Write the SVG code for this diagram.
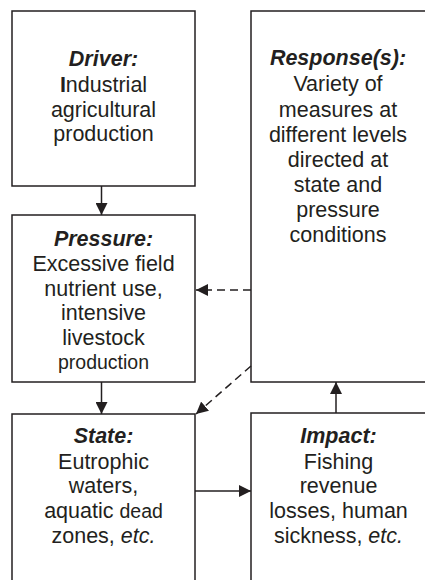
<svg xmlns="http://www.w3.org/2000/svg" width="425" height="580" viewBox="0 0 425 580">
<style>
.box{fill:#fff;stroke:#231f20;stroke-width:1.5}
.t{font-family:"Liberation Sans",Arial,sans-serif;font-size:21.5px;fill:#231f20;text-anchor:middle}
.h{font-weight:bold;font-style:italic}
.sm{font-size:19.5px}
.ln{stroke:#231f20;stroke-width:1.5;fill:none}
.dash{stroke-dasharray:8 5}
</style>
<defs>
<marker id="ah" viewBox="0 0 12 12" refX="12" refY="6" markerWidth="12" markerHeight="12" markerUnits="userSpaceOnUse" orient="auto">
<path d="M0,0 L12,6 L0,12 Z" fill="#231f20"/>
</marker>
</defs>
<rect width="425" height="580" fill="#fff"/>
<g id="driver">
<rect class="box" x="12" y="11" width="183" height="175"/>
<text class="t" x="103.5" y="66"><tspan class="h">Driver:</tspan></text>
<text class="t" x="103.5" y="92"><tspan font-weight="bold">I</tspan>ndustrial</text>
<text class="t" x="103.5" y="117">agricultural</text>
<text class="t" x="103.5" y="141">production</text>
</g>
<g id="response">
<rect class="box" x="251" y="11" width="200" height="371"/>
<text class="t" x="338" y="65"><tspan class="h">Response(s):</tspan></text>
<text class="t" x="338" y="91">Variety of</text>
<text class="t" x="338" y="117">measures at</text>
<text class="t" x="338" y="142">different levels</text>
<text class="t" x="338" y="167">directed at</text>
<text class="t" x="338" y="192">state and</text>
<text class="t" x="338" y="217">pressure</text>
<text class="t" x="338" y="242">conditions</text>
</g>
<g id="pressure">
<rect class="box" x="12" y="215" width="183" height="167"/>
<text class="t" x="103.5" y="246"><tspan class="h">Pressure:</tspan></text>
<text class="t" x="103.5" y="271">Excessive field</text>
<text class="t" x="103.5" y="296">nutrient use,</text>
<text class="t" x="103.5" y="320">intensive</text>
<text class="t" x="103.5" y="345">livestock</text>
<text class="t sm" x="103.5" y="369">production</text>
</g>
<g id="state">
<rect class="box" x="12" y="414" width="183" height="200"/>
<text class="t" x="103.5" y="443"><tspan class="h">State:</tspan></text>
<text class="t" x="103.5" y="469">Eutrophic</text>
<text class="t" x="103.5" y="493">waters,</text>
<text class="t" x="103.5" y="518">aquatic <tspan class="sm">dead</tspan></text>
<text class="t" x="103.5" y="543">zones, <tspan font-style="italic">etc.</tspan></text>
</g>
<g id="impact">
<rect class="box" x="251" y="413" width="200" height="200"/>
<text class="t" x="338.5" y="443"><tspan class="h">Impact:</tspan></text>
<text class="t" x="338.5" y="469">Fishing</text>
<text class="t" x="338.5" y="493">revenue</text>
<text class="t" x="338.5" y="518">losses, human</text>
<text class="t" x="338.5" y="543">sickness, <tspan font-style="italic">etc.</tspan></text>
</g>
<g id="connectors">
<line class="ln" x1="101.5" y1="186" x2="101.5" y2="215" marker-end="url(#ah)"/>
<line class="ln" x1="101.5" y1="382" x2="101.5" y2="414" marker-end="url(#ah)"/>
<line class="ln" x1="195" y1="491" x2="251" y2="491" marker-end="url(#ah)"/>
<line class="ln" x1="336" y1="413" x2="336" y2="382" marker-end="url(#ah)"/>
<line class="ln dash" x1="251" y1="290" x2="196" y2="290" marker-end="url(#ah)"/>
<line class="ln dash" x1="251" y1="366" x2="196" y2="414" marker-end="url(#ah)"/>
</g>
</svg>
